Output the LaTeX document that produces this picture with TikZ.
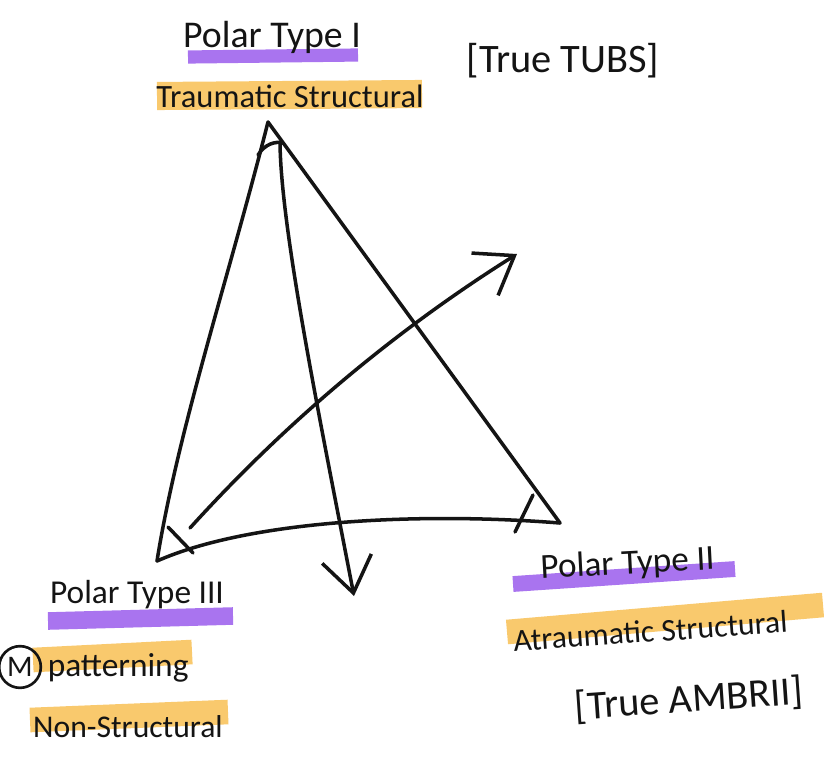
\documentclass[tikz,border=0pt]{standalone}
\usepackage{fontspec}
\setmainfont{Carlito}
\usepackage{tikz}
\usetikzlibrary{arrows.meta,positioning}
\definecolor{ink}{HTML}{141414}
\definecolor{violetmark}{HTML}{A065EE}
\definecolor{ambermark}{HTML}{F9C45E}
\tikzset{
  pen/.style={draw=ink,line width=2pt,line cap=round,line join=round},
  penarr/.style={pen,-{Straight Barb[length=7mm,width=10mm]}},
  violetbar/.style={draw=violetmark,line width=9pt,opacity=0.9},
  amberbar/.style={draw=ambermark,line width=15pt,opacity=0.9},
  hand/.style={font=\fontsize{19}{21}\selectfont,text=ink,inner sep=0pt,
               anchor=base},
  handbig/.style={hand,font=\fontsize{23}{25}\selectfont},
  ringmark/.style={draw=ink,circle,line width=1.5pt,inner sep=2pt,
                   font=\fontsize{17}{19}\selectfont,text=ink}
}
\begin{document}
\begin{tikzpicture}[x=0.02cm,y=-0.02cm]
    \path[use as bounding box,fill=white] (0,0) rectangle (824,764);
    \draw[violetbar,line width=7.5pt] (188,57) -- (358,55);
    \draw[amberbar,line width=16pt] (157,96) -- (422,94);
    \draw[violetbar,line width=10pt] (48,621) -- (233,616);
    \draw[amberbar,line width=14pt] (33,660) -- (192,652);
    \draw[amberbar,line width=14pt] (30,720) -- (228,712);
    \draw[violetbar] (513,584) -- (735,569);
    \draw[amberbar,line width=14pt] (507,632) -- (823,605);

    \node[hand,font=\fontsize{21.5}{23}\selectfont] (typeI) at (272,47)
      {Polar Type I};
    \node[hand,font=\fontsize{18.5}{20}\selectfont] (traumatic) at (290,107)
      {Traumatic Structural};
    \node[handbig] (tubs) at (563,72) {[True TUBS]};
    \node[hand] (typeIII) at (137,603) {Polar Type III};
    \node[ringmark] (markM) at (20,667) {M};
    \node[hand,base right=3pt of markM] (patterning) {patterning};
    \node[hand,font=\fontsize{18}{20}\selectfont] (nonstruct) at (128,737)
      {Non-Structural};
    \node[hand,font=\fontsize{20}{22}\selectfont,rotate=3] (typeII)
      at (628,574) {Polar Type II};
    \node[hand,font=\fontsize{18}{20}\selectfont,rotate=4] (atraumatic)
      at (651,642) {Atraumatic Structural};
    \node[handbig,rotate=4] (ambr) at (690,712) {[True AMBRII]};

    \coordinate (apexI) at (268,122);
    \coordinate (cornerIII) at (157,561);
    \coordinate (cornerII) at (560,523);
    \coordinate (startdown) at (280,143);
    \coordinate (enddown) at (354,596);
    \coordinate (startdiag) at (190,528);
    \coordinate (enddiag) at (517,254);

    \draw[pen] (apexI) .. controls (228,280) and (178,430) .. (cornerIII);
    \draw[pen] (apexI) -- (cornerII);
    \draw[pen] (cornerIII) .. controls (250,520) and (420,512) .. (cornerII);
    \draw[pen] (258,155) .. controls (265,144) and (275,141) .. (283,143);
    \draw[pen] (168,527) -- (193,553);
    \draw[pen] (515,532) -- (533,495);

    \draw[penarr] (startdown) .. controls (281,230) and (320,420) .. (enddown);
    \draw[penarr] (startdiag) .. controls (287,421) and (396,330) .. (enddiag);
\end{tikzpicture}
\end{document}
